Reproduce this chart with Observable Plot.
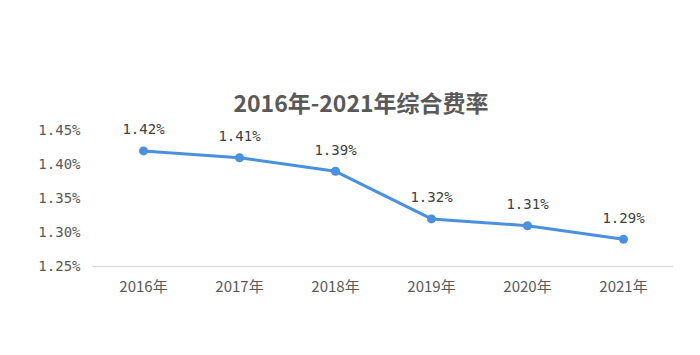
<!DOCTYPE html>
<html><head><meta charset="utf-8">
<script src="https://cdn.jsdelivr.net/npm/d3@7"></script>
<script src="https://cdn.jsdelivr.net/npm/@observablehq/plot@0.6"></script>
<style>body{margin:0;background:#fff;} svg{display:block;}</style>
</head><body><div id="chart"></div>
<script>
const title = "2016年-2021年综合费率";
const years = ["2016年","2017年","2018年","2019年","2020年","2021年"];
const rates = [1.42, 1.41, 1.39, 1.32, 1.31, 1.29];
const yTicks = [1.25, 1.30, 1.35, 1.40, 1.45];
const data = years.map((y, i) => ({year: y, rate: rates[i]}));
const blue = "#4a90e0";
const chart = Plot.plot({
  width: 700, height: 355,
  marginLeft: 92, marginRight: 27, marginTop: 130, marginBottom: 89,
  style: {background: "#fff", color: "#595959"},
  x: {type: "point", domain: years, padding: 0.5, label: null},
  y: {domain: [1.25, 1.45], label: null},
  marks: [
    Plot.axisY({ticks: yTicks, tickSize: 0, tickPadding: 12, tickFormat: d => d.toFixed(2) + "%",
      fontFamily: "DejaVu Sans Mono", fontSize: 14, fill: "#595959"}),
    Plot.axisX({tickSize: 0, tickPadding: 15, fontFamily: "Noto Sans CJK SC", fontSize: 15, fill: "#595959"}),
    Plot.ruleY([1.25], {stroke: "#d9d9d9", strokeWidth: 1}),
    Plot.line(data, {x: "year", y: "rate", stroke: blue, strokeWidth: 3}),
    Plot.dot(data, {x: "year", y: "rate", fill: blue, r: 4.5}),
    Plot.text(data, {x: "year", y: "rate", text: d => d.rate.toFixed(2) + "%", dy: -21,
      fontFamily: "DejaVu Sans Mono", fontSize: 14, fill: "#404040"}),
    Plot.text([title], {frameAnchor: "top", dy: -35, dx: -22, fontFamily: "Noto Sans CJK SC",
      fontWeight: "bold", fontSize: 23, fill: "#595959"})
  ]
});
document.getElementById("chart").appendChild(chart);
</script></body></html>
